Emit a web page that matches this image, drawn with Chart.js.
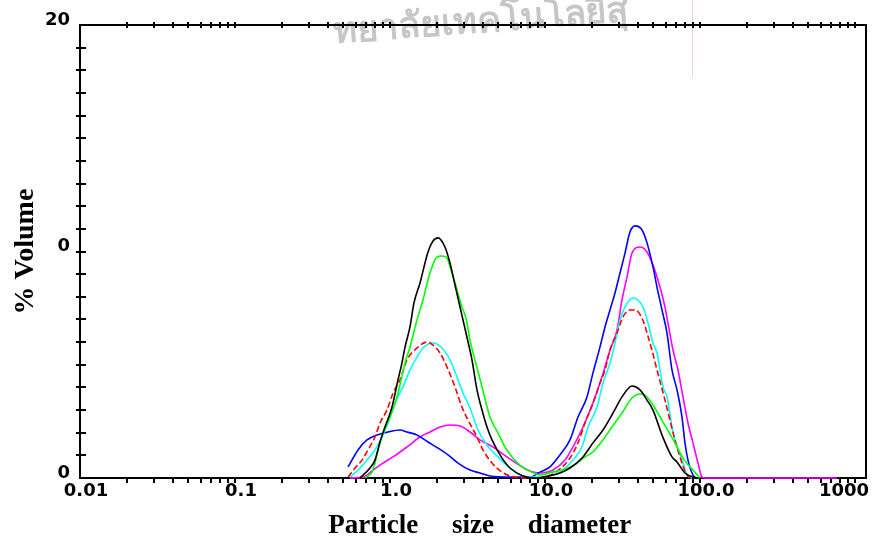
<!DOCTYPE html>
<html>
<head>
<meta charset="utf-8">
<script src="https://cdn.jsdelivr.net/npm/chart.js@4/dist/chart.umd.min.js"></script>
<style>
  html, body { margin: 0; padding: 0; background: #ffffff; }
  #wrap { width: 872px; height: 542px; }
</style>
</head>
<body>
<div id="wrap"><canvas id="c" width="872" height="542"></canvas></div>
<script>
// ---- axis definitions ----
const xTickValues = [0.01, 0.1, 1, 10, 100, 1000];
const xTickLabels = ['0.01', '0.1', '1.0', '10.0', '100.0', '1000'];
const yTickValues = [0, 10, 20];
const yTickLabels = ['0', '0', '20'];
const xTitle = '  Particle     size     diameter';
const yTitle = '% Volume';
const watermarkText = 'ทยาลัยเทคโนโลยีสุ';

// ---- series (particle size in micrometres, % volume) ----
const blackX = [0.640,0.743,0.800,0.862,0.928,1.030,1.126,1.195,1.250,1.346,1.428,1.562,1.759,1.894,2.040,2.263,2.439,2.627,2.830,3.093,3.381,3.642,3.923,4.225,4.551,5.280,5.945,7.215,8.880,10.46,12.50,14.50,17.59,20.40,23.67,27.47,31.39,36.42,41.04,45.53,49.75,56.86,65.98,71.08,80.00,95.63];
const blackY = [0,0.44,0.79,1.59,2.25,3.13,4.33,5.08,5.78,6.67,7.73,8.61,9.98,10.46,10.60,10.20,9.49,8.52,7.55,6.40,5.21,3.89,3.00,2.25,1.68,0.88,0.44,0.09,0,0.09,0.22,0.44,0.93,1.55,2.12,2.87,3.58,4.06,3.89,3.44,3.00,1.90,0.93,0.71,0.22,0];

const greenX = [0.690,0.765,0.800,0.837,0.901,1.0,1.110,1.250,1.346,1.494,1.633,1.812,2.010,2.166,2.332,2.439,2.627,2.914,3.093,3.283,3.535,3.923,4.418,4.975,5.520,6.125,7.109,8.245,9.284,11.10,12.87,15.16,18.12,20.40,23.67,27.06,31.39,36.42,41.04,44.19,49.75,57.72,68.99,77.70,90.12,100];
const greenY = [0,0.26,0.66,1.24,1.99,2.69,3.58,5.08,5.78,6.98,7.86,9.05,9.76,9.80,9.71,9.32,8.61,7.55,7.06,6.09,5.21,4.02,2.69,1.99,1.37,0.93,0.49,0.26,0.13,0.26,0.35,0.53,0.93,1.15,1.68,2.25,2.87,3.53,3.71,3.66,3.22,2.47,1.55,0.88,0.35,0];

const redX = [0.536,0.5945,0.660,0.721,0.800,0.862,0.956,1.046,1.160,1.287,1.516,1.733,1.894,2.102,2.332,2.627,2.914,3.186,3.642,3.981,4.551,5.280,5.945,7.43,10.0,12.50,14.50,16.33,18.12,20.40,22.63,24.39,26.27,29.14,31.86,35.35,38.08,42.27,45.53,49.01,52.80,59.45,68.99,74.30,82.42,88.80];
const redY = [0.04,0.44,0.79,1.24,1.81,2.43,3.00,3.75,4.33,5.21,5.78,6.00,5.87,5.52,4.90,4.02,3.13,2.56,1.81,1.24,0.66,0.26,0.09,0,0.04,0.40,0.88,1.55,2.43,3.31,4.19,4.77,5.65,6.40,7.11,7.42,7.42,7.06,6.40,5.65,4.77,3.44,1.68,0.93,0.13,0];

const cyanX = [0.552,0.622,0.7105,0.800,0.888,0.971,1.077,1.213,1.346,1.494,1.633,1.894,2.166,2.439,2.706,2.958,3.283,3.696,4.225,4.975,5.945,7.215,8.880,10.77,12.50,15.16,17.33,18.94,21.66,23.67,26.27,28.30,30.48,32.83,36.96,42.90,46.21,49.75,52.80,57.72,61.25,65.98,68.99,77.70,82.42,88.80];
const cyanY = [0.04,0.35,0.79,1.24,1.81,2.43,3.31,4.02,4.77,5.34,5.74,5.96,5.74,5.21,4.46,3.75,3.09,2.12,1.46,0.93,0.44,0.09,0.04,0.09,0.26,0.79,1.37,2.25,3.13,4.19,5.08,5.96,6.98,7.55,7.95,7.55,6.84,5.96,5.52,4.02,3.58,2.25,1.68,0.66,0.13,0];

const blueX = [0.536,0.622,0.7105,0.824,0.971,1.160,1.287,1.494,1.759,2.040,2.367,2.747,3.283,3.808,4.418,5.945,8.0,9.284,10.77,12.50,14.50,16.33,18.66,20.40,22.63,24.39,26.27,28.30,30.48,32.83,35.35,38.08,42.27,45.53,49.75,52.80,56.86,61.25,65.98,71.08,76.55,80.00,83.66,88.80,92.9];
const blueY = [0.49,1.24,1.68,1.90,2.03,2.12,2.03,1.90,1.59,1.32,1.02,0.66,0.35,0.22,0.09,0.04,0.04,0.26,0.49,1.02,1.68,2.69,3.58,4.64,5.78,6.67,7.42,8.17,9.05,9.93,10.86,11.13,10.95,10.38,9.32,8.43,7.42,6.40,4.77,3.89,2.69,1.55,0.79,0.22,0];

const magentaX = [0.552,0.6695,0.777,0.901,1.046,1.287,1.562,1.812,2.102,2.439,2.830,3.283,3.808,4.618,5.686,7.109,8.366,9.563,11.26,13.46,15.16,17.59,20.40,23.32,26.27,29.14,31.39,33.81,36.42,41.04,45.53,49.75,55.20,59.45,62.16,66.97,72.13,77.70,83.66,90.12,97.07,103.0,107.7,765.6];
const magentaY = [0,0.04,0.35,0.66,0.93,1.37,1.81,2.03,2.25,2.34,2.30,2.03,1.68,1.37,0.93,0.49,0.26,0.22,0.35,0.79,1.37,2.25,3.31,4.46,5.65,6.53,7.86,8.87,9.93,10.20,9.98,9.40,8.43,7.55,6.84,5.65,4.77,3.58,2.43,1.55,0.66,0.04,0,0];

const seriesList = [
  { name: 'Sample 1', xs: blackX, ys: blackY, color: '#000000', dash: [] },
  { name: 'Sample 2', xs: greenX, ys: greenY, color: '#00ff00', dash: [] },
  { name: 'Sample 3', xs: redX, ys: redY, color: '#ff0000', dash: [6, 3] },
  { name: 'Sample 4', xs: cyanX, ys: cyanY, color: '#00ffff', dash: [] },
  { name: 'Sample 5', xs: blueX, ys: blueY, color: '#0000ff', dash: [] },
  { name: 'Sample 6', xs: magentaX, ys: magentaY, color: '#ff00ff', dash: [] }
];

const X_MIN = 0.01, X_MAX = 1178;

const datasets = seriesList.map(s => ({
  label: s.name,
  data: s.xs.map((x, i) => ({ x: x, y: s.ys[i] })),
  borderColor: s.color,
  backgroundColor: s.color,
  borderWidth: 1.6,
  borderDash: s.dash,
  pointRadius: 0,
  showLine: true,
  fill: false,
  clip: 3,
  cubicInterpolationMode: 'monotone'
}));

const tickFont = 'bold 18px "DejaVu Sans", sans-serif';

const framePlugin = {
  id: 'frame',
  beforeDatasetsDraw(chart) {
    const ctx = chart.ctx;
    const a = chart.chartArea;
    const xs = chart.scales.x, ys = chart.scales.y;
    ctx.save();
    // watermark
    ctx.save();
    ctx.translate((a.left + a.right) / 2 + 8, 22);
    ctx.rotate(-0.075);
    ctx.font = 'bold 36px "Noto Sans", "DejaVu Sans", sans-serif';
    ctx.fillStyle = '#c6c6c6';
    ctx.textAlign = 'center';
    ctx.textBaseline = 'middle';
    ctx.fillText(watermarkText, 0, 0);
    ctx.restore();
    // faint pink artifact line
    ctx.strokeStyle = 'rgba(255,170,190,0.6)';
    ctx.lineWidth = 1;
    const px = Math.round(xs.getPixelForValue(88.8)) + 0.5;
    ctx.beginPath(); ctx.moveTo(px, 0); ctx.lineTo(px, ys.getPixelForValue(17.7)); ctx.stroke();
    // top and right border
    ctx.strokeStyle = '#000';
    ctx.lineWidth = 2;
    ctx.beginPath();
    ctx.moveTo(a.left, a.top); ctx.lineTo(a.right, a.top); ctx.lineTo(a.right, a.bottom);
    ctx.stroke();
    // y ticks (every 1 %)
    ctx.lineWidth = 2;
    for (let v = 1; v < 20; v++) {
      const y = Math.round(ys.getPixelForValue(v));
      ctx.beginPath(); ctx.moveTo(a.left - 4, y); ctx.lineTo(a.left + 6, y); ctx.stroke();
    }
    // x log ticks on bottom and top
    for (let d = -2; d <= 3; d++) {
      for (let m = 1; m <= 9; m++) {
        const v = m * Math.pow(10, d);
        if (v <= X_MIN * 1.0001 || v > X_MAX) continue;
        const x = Math.round(xs.getPixelForValue(v));
        ctx.beginPath(); ctx.moveTo(x, a.bottom); ctx.lineTo(x, a.bottom + 5); ctx.stroke();
        ctx.beginPath(); ctx.moveTo(x, a.top - 3); ctx.lineTo(x, a.top + 3); ctx.stroke();
      }
    }
    ctx.restore();
  },
  afterDraw(chart) {
    const ctx = chart.ctx;
    const a = chart.chartArea;
    const xs = chart.scales.x;
    ctx.save();
    ctx.font = tickFont;
    ctx.fillStyle = '#000';
    ctx.textBaseline = 'middle';
    ctx.textAlign = 'left';
    xTickValues.forEach((v, i) => {
      const label = xTickLabels[i];
      const w = ctx.measureText(label).width;
      let cx = xs.getPixelForValue(v) + 6;
      let left = cx - w / 2;
      if (left + w > chart.width - 3) left = chart.width - 3 - w;
      ctx.fillText(label, left, a.bottom + 13);
    });
    ctx.restore();
  }
};

new Chart(document.getElementById('c').getContext('2d'), {
  type: 'scatter',
  data: { datasets: datasets },
  options: {
    responsive: false,
    animation: false,
    layout: { padding: { top: 25, right: 6, left: 0, bottom: 0 } },
    plugins: { legend: { display: false }, tooltip: { enabled: false } },
    scales: {
      x: {
        type: 'logarithmic',
        min: X_MIN,
        max: X_MAX,
        grid: { display: false, drawTicks: false },
        border: { display: true, color: '#000', width: 2 },
        ticks: { display: false },
        title: {
          display: true, text: xTitle, color: '#000',
          font: { family: '"Liberation Serif", "Times New Roman", serif', size: 27, weight: 'bold' },
          padding: { top: 0, bottom: 0 }
        },
        afterFit(s) { s.height = 64; s.paddingLeft = 0; s.paddingRight = 0; }
      },
      y: {
        type: 'linear',
        min: 0,
        max: 20,
        grid: { display: false, drawTicks: false },
        border: { display: true, color: '#000', width: 2 },
        afterBuildTicks(s) { s.ticks = yTickValues.map(v => ({ value: v })); },
        ticks: {
          color: '#000',
          font: { family: '"DejaVu Sans", sans-serif', size: 18, weight: 'bold' },
          padding: 10,
          labelOffset: -5,
          callback(value) { const i = yTickValues.indexOf(value); return i >= 0 ? yTickLabels[i] : ''; }
        },
        title: {
          display: true, text: yTitle, color: '#000',
          font: { family: '"Liberation Serif", "Times New Roman", serif', size: 28, weight: 'bold' },
          padding: { top: 9, bottom: 0 }
        },
        afterFit(s) { s.width = 80; s.paddingTop = 0; s.paddingBottom = 0; }
      }
    }
  },
  plugins: [framePlugin]
});
</script>
</body>
</html>
